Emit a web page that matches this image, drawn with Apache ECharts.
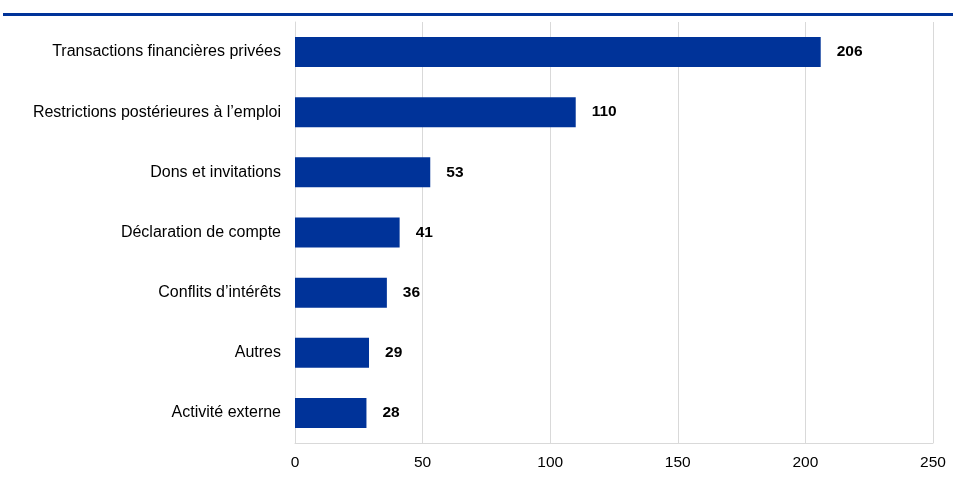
<!DOCTYPE html>
<html>
<head>
<meta charset="utf-8">
<script src="https://cdn.jsdelivr.net/npm/echarts@6/dist/echarts.min.js"></script>
<style>
  html, body { margin: 0; padding: 0; background: #fff; }
  #topRule { position: absolute; left: 3px; right: 0; top: 13px; height: 3px; background: #003399; }
  #chart { width: 953px; height: 481px; }
</style>
</head>
<body>
<div id="topRule"></div>
<div id="chart"></div>
<script>
// Categories, top to bottom
const categories = [
  "Transactions financières privées",
  "Restrictions postérieures à l’emploi",
  "Dons et invitations",
  "Déclaration de compte",
  "Conflits d’intérêts",
  "Autres",
  "Activité externe"
];
// Number of cases per category
const values = [206, 110, 53, 41, 36, 29, 28];
// Value axis ticks
const axisMin = 0;
const axisMax = 250;
const axisStep = 50;

const chart = echarts.init(document.getElementById('chart'));
const font = '"Liberation Sans", Arial, sans-serif';

chart.setOption({
  animation: false,
  grid: { left: 295, right: 20, top: 22, bottom: 38, containLabel: false },
  xAxis: {
    type: 'value',
    min: axisMin,
    max: axisMax,
    interval: axisStep,
    axisLine: { show: true, lineStyle: { color: '#d9d9d9', width: 1 } },
    axisTick: { show: false },
    splitLine: { show: true, lineStyle: { color: '#d9d9d9', width: 1 } },
    axisLabel: { color: '#000', fontFamily: font, fontSize: 15.5, margin: 12 }
  },
  yAxis: {
    type: 'category',
    data: categories,
    inverse: true,
    axisLine: { show: true, lineStyle: { color: '#d9d9d9', width: 1 } },
    axisTick: { show: false },
    axisLabel: { color: '#000', fontFamily: font, fontSize: 16, margin: 14 }
  },
  series: [{
    type: 'bar',
    data: values,
    barWidth: 30,
    itemStyle: { color: '#003399' },
    label: {
      show: true,
      position: 'right',
      distance: 16,
      color: '#000',
      fontFamily: font,
      fontSize: 15.5,
      fontWeight: 'bold'
    }
  }]
});
</script>
</body>
</html>
